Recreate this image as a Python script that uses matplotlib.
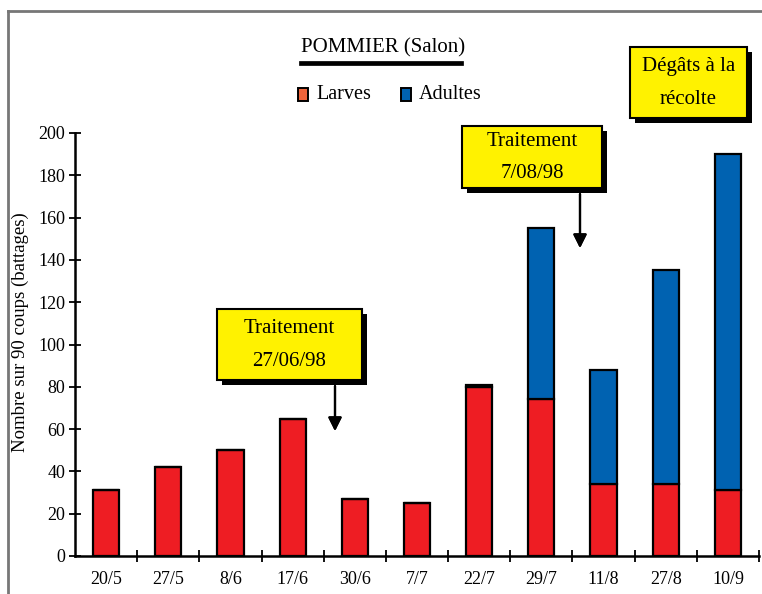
import matplotlib
matplotlib.use("Agg")
import matplotlib.pyplot as plt
from matplotlib.patches import Rectangle
from matplotlib.lines import Line2D

plt.rcParams['font.family'] = ['Liberation Serif', 'DejaVu Serif']

# Sampling dates and insect counts (per 90 beats)
dates = ["20/5", "27/5", "8/6", "17/6", "30/6", "7/7", "22/7", "29/7", "11/8", "27/8", "10/9"]
larves = [31, 42, 50, 65, 27, 25, 80, 74, 34, 34, 31]
adultes = [0, 0, 0, 0, 0, 0, 1, 81, 54, 101, 159]

y_ticks = [0, 20, 40, 60, 80, 100, 120, 140, 160, 180, 200]

RED = "#EE1D23"
BLUE = "#0062B1"
YELLOW = "#FFF200"
LEG_RED = "#F0643A"

W, H = 762, 594
fig = plt.figure(figsize=(W / 100, H / 100), dpi=100)


def fx(px):
    return px / W


def fy(py):
    return 1 - py / H


ax = fig.add_axes([fx(75), fy(556), (759 - 75) / W, (556 - 133) / H])

x = list(range(len(dates)))
ax.bar(x, larves, width=0.42, color=RED, edgecolor="black", linewidth=1.6, zorder=3)
ax.bar(x, adultes, width=0.42, bottom=larves, color=BLUE, edgecolor="black",
       linewidth=1.6, zorder=3)

ax.set_xlim(-0.5, len(dates) - 0.5)
ax.set_ylim(0, 200)
ax.set_yticks(y_ticks)
ax.set_yticklabels([str(v) for v in y_ticks], fontsize=13)
ax.set_xticks(x)
ax.set_xticklabels(dates, fontsize=13)
ax.set_xticks([i + 0.5 for i in range(len(dates))], minor=True)
ax.tick_params(axis="x", which="major", length=0, pad=11)
ax.tick_params(axis="x", which="minor", direction="inout", length=9, width=1.3)
ax.tick_params(axis="y", direction="inout", length=8, width=1.3, pad=3)

for side in ("top", "right"):
    ax.spines[side].set_visible(False)
for side in ("left", "bottom"):
    ax.spines[side].set_linewidth(1.8)

ax.set_ylabel("Nombre sur 90 coups (battages)", fontsize=13.5)
ax.yaxis.set_label_coords(-0.067, 0.53)

# Page frame lines
fig.add_artist(Line2D([fx(8), 1], [fy(11), fy(11)], color="#777777", lw=2))
fig.add_artist(Line2D([fx(8), fx(8)], [fy(11), 0], color="#777777", lw=2))

# Title with underline
fig.text(fx(301), fy(52), "POMMIER (Salon)", fontsize=15, ha="left", va="baseline")
fig.add_artist(Line2D([fx(301), fx(461)], [fy(63), fy(63)], color="black", lw=3.4))

# Legend
for sx, col, label in [(298, LEG_RED, "Larves"), (401, BLUE, "Adultes")]:
    fig.add_artist(Rectangle((fx(sx), fy(101)), 10 / W, 13 / H, facecolor=col,
                             edgecolor="black", lw=1.4, transform=fig.transFigure))
    fig.text(fx(sx + 18), fy(99), label, fontsize=14.5, ha="left", va="baseline")


def callout(x0, y0, x1, y1, lines):
    fig.add_artist(Rectangle((fx(x0 + 5), fy(y1 + 5)), (x1 - x0) / W, (y1 - y0) / H,
                             facecolor="black", edgecolor="black", lw=0,
                             transform=fig.transFigure, zorder=4))
    fig.add_artist(Rectangle((fx(x0), fy(y1)), (x1 - x0) / W, (y1 - y0) / H,
                             facecolor=YELLOW, edgecolor="black", lw=1.5,
                             transform=fig.transFigure, zorder=5))
    cx = (x0 + x1) / 2
    cy = (y0 + y1) / 2
    fig.text(fx(cx), fy(cy - 16), lines[0], fontsize=15, ha="center", va="center", zorder=6)
    fig.text(fx(cx), fy(cy + 17), lines[1], fontsize=15, ha="center", va="center", zorder=6)


def arrow(px, py0, py1):
    fig.add_artist(plt.annotate("", xy=(fx(px), fy(py1)), xytext=(fx(px), fy(py0)),
                                xycoords="figure fraction", textcoords="figure fraction",
                                arrowprops=dict(arrowstyle="-|>", color="black", lw=1.6,
                                                mutation_scale=20, shrinkA=0, shrinkB=0)))


callout(217, 309, 362, 380, ["Traitement", "27/06/98"])
arrow(335, 386, 431)
callout(462, 126, 602, 188, ["Traitement", "7/08/98"])
arrow(580, 194, 248)
callout(630, 47, 747, 118, ["Dégâts à la", "récolte"])

fig.savefig("out.png", dpi=100)
